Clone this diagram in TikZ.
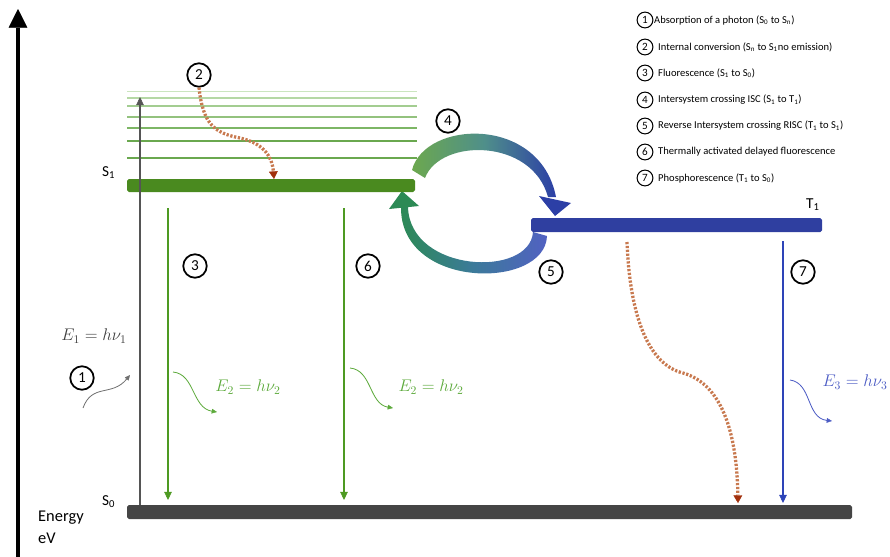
\documentclass[tikz,border=0pt]{standalone}
\usepackage{fontspec}
\setmainfont{Carlito}
\usetikzlibrary{arrows.meta}
\definecolor{sonegreen}{HTML}{4A8A1F}
\definecolor{arrgreen}{HTML}{4E9A22}
\definecolor{txtgreen}{HTML}{5DAA3C}
\definecolor{tblue}{HTML}{2F3FA0}
\definecolor{arrblue}{HTML}{2E44B8}
\definecolor{txtblue}{HTML}{4C5CC4}
\definecolor{szero}{HTML}{454545}
\definecolor{dotbrown}{HTML}{C8794F}
\definecolor{tipred}{HTML}{A2300C}
\definecolor{iscgreen}{HTML}{6CA84E}
\definecolor{iscmid}{HTML}{4F8F8A}
\definecolor{iscblue}{HTML}{2C3FA6}
\definecolor{riscgreen}{HTML}{2C8A55}
\definecolor{riscmid}{HTML}{3C7A9A}
\definecolor{riscblue}{HTML}{5161C2}
\definecolor{vibA}{HTML}{6AA84F}
\definecolor{vibB}{HTML}{7DB665}
\definecolor{vibC}{HTML}{93C27E}
\definecolor{vibD}{HTML}{A3CD91}
\definecolor{vibE}{HTML}{B5D8A5}
\definecolor{vibF}{HTML}{CBE5BF}
\definecolor{grayarr}{HTML}{555555}
\definecolor{wavegray}{HTML}{707070}
\begin{document}
\begin{tikzpicture}[x=0.03cm,y=-0.03cm,
 numcirc/.style={circle,draw=black,line width=1.5pt,minimum size=20pt,inner sep=0pt,font=\fontsize{13}{13}\selectfont},
 legcirc/.style={circle,draw=black,line width=0.9pt,minimum size=13.5pt,inner sep=0pt,font=\fontsize{9.5}{9.5}\selectfont},
 legtext/.style={anchor=west,inner sep=0pt,font=\fontsize{9}{11}\selectfont},
 lvl/.style={anchor=base west,inner sep=0pt,font=\fontsize{13}{15}\selectfont},
 eqn/.style={inner sep=0pt,font=\Large},
 emit/.style={line width=1.7pt,-{Triangle[width=6.5pt,length=7pt,line width=0.4pt]}},
 wave/.style={line width=0.7pt,-{Triangle[width=4pt,length=4.5pt,line width=0.3pt]}},
 nonrad/.style={line width=2.8pt,dotbrown,dash pattern=on 1.9pt off 1.4pt,-{Triangle[width=7.5pt,length=6.5pt,line width=0.3pt,fill=tipred,color=tipred]}},
]
\useasboundingbox (0,0) rectangle (890,557);

% energy axis
\coordinate (ax0) at (18,557);
\coordinate (ax1) at (18,9);
\draw[black,line width=4.2pt,-{Triangle[width=16pt,length=16pt,line width=0.4pt]}] (ax0) -- (ax1);
\node[anchor=base west,inner sep=0pt,font=\fontsize{14}{16}\selectfont] (en) at (38,521) {Energy};
\node[anchor=base west,inner sep=0pt,font=\fontsize{14}{16}\selectfont] (ev) at (38,543) {eV};

% ISC band (S1 -> T1)
\shade[left color=iscgreen,right color=iscblue,middle color=iscmid]
  (412,170) .. controls (425,120) and (540,115) .. (556,197) -- (548,197)
  .. controls (532,138) and (440,138) .. (425,178) -- cycle;
\fill[iscblue] (539,196) -- (571,203) -- (555,216) -- cycle;

% RISC band (T1 -> S1)
\shade[left color=riscgreen,right color=riscblue,middle color=riscmid]
  (547,236) .. controls (545,290) and (400,290) .. (401,207) -- (408,207)
  .. controls (410,273) and (530,278) .. (533,232) -- cycle;
\fill[riscgreen] (389,209) -- (402,191) -- (419,206) -- cycle;

% vibrational levels
\draw[vibF,line width=1.3pt] (127,91.7) -- (417,91.7);
\draw[vibE,line width=1.4pt] (127,97.7) -- (417,97.7);
\draw[vibD,line width=1.5pt] (127,106) -- (417,106);
\draw[vibC,line width=1.6pt] (127,116.7) -- (417,116.7);
\draw[vibB,line width=1.7pt] (127,128.3) -- (417,128.3);
\draw[vibA,line width=1.9pt] (127,140.7) -- (417,140.7);
\draw[vibA,line width=1.9pt] (127,158.3) -- (417,158.3);

% levels
\fill[szero,rounded corners=1.5pt] (127,505) rectangle (852,519);
\fill[sonegreen,rounded corners=1.5pt] (127,179) rectangle (415,192);
\fill[tblue,rounded corners=1.5pt] (531,218) rectangle (822,232);
\node[lvl] (s1lab) at (102,176) {S\textsubscript{1}};
\node[lvl] (s0lab) at (102,505) {S\textsubscript{0}};
\node[lvl] (t1lab) at (806,208) {T\textsubscript{1}};

% coordinates on the levels
\coordinate (absA) at (140,505);
\coordinate (absB) at (140,97);
\coordinate (f3a) at (168,208);
\coordinate (f3b) at (168,500);
\coordinate (f6a) at (344,208);
\coordinate (f6b) at (344,500);
\coordinate (p7a) at (783,241);
\coordinate (p7b) at (783,503);

% absorption arrow
\draw[grayarr,line width=1.6pt,-{Triangle[width=6.5pt,length=7pt,line width=0.4pt]}] (absA) -- (absB);
% fluorescence, TADF, phosphorescence
\draw[emit,arrgreen] (f3a) -- (f3b);
\draw[emit,arrgreen] (f6a) -- (f6b);
\draw[emit,arrblue] (p7a) -- (p7b);

% circled numbers
\node[numcirc] (c1) at (82,378) {1};
\node[numcirc] (c2) at (199,75) {2};
\node[numcirc] (c3) at (195,266) {3};
\node[numcirc] (c4) at (448,121) {4};
\node[numcirc] (c5) at (551,272) {5};
\node[numcirc] (c6) at (368,266) {6};
\node[numcirc] (c7) at (803,272) {7};

% internal conversion
\coordinate (ic1) at (274,179);
\draw[nonrad] (c2.south) .. controls (203,125) and (215,133) .. (240,138)
  .. controls (262,143) and (272,155) .. (ic1);
% non-radiative T1 -> S0
\coordinate (nr0) at (627,242);
\coordinate (nr1) at (738,503);
\draw[nonrad] (nr0) .. controls (630,320) and (650,365) .. (683,373)
  .. controls (725,385) and (737,440) .. (nr1);

% photons
\coordinate (w1a) at (83,408);  \coordinate (w1b) at (130,375);
\draw[wave,wavegray] (w1a) .. controls (92,383) and (112,397) .. (w1b);
\coordinate (w2a) at (173,372); \coordinate (w2b) at (217,412);
\draw[wave,txtgreen] (w2a) .. controls (195,374) and (192,408) .. (w2b);
\coordinate (w3a) at (350,368); \coordinate (w3b) at (393,408);
\draw[wave,txtgreen] (w3a) .. controls (372,370) and (369,404) .. (w3b);
\coordinate (w4a) at (790,380); \coordinate (w4b) at (832,421);
\draw[wave,txtblue] (w4a) .. controls (812,383) and (806,418) .. (w4b);

% energies
\node[eqn,text=black!75] (e1) at (94,336) {$E_1 = h\nu_1$};
\node[eqn,text=txtgreen] (e2) at (248,387) {$E_2 = h\nu_2$};
\node[eqn,text=txtgreen] (e2b) at (431,387) {$E_2 = h\nu_2$};
\node[eqn,text=txtblue] (e3) at (855,382) {$E_3 = h\nu_3$};

% legend
\node[legcirc] (l1) at (645,20) {1};
\node[legtext] (t1) at (654,20) {Absorption of a photon (S\textsubscript{0} to S\textsubscript{n})};
\node[legcirc] (l2) at (645,47) {2};
\node[legtext] (t2) at (658,47) {Internal conversion (S\textsubscript{n} to S\textsubscript{1}no emission)};
\node[legcirc] (l3) at (645,73) {3};
\node[legtext] (t3) at (658,73) {Fluorescence (S\textsubscript{1} to S\textsubscript{0})};
\node[legcirc] (l4) at (645,100) {4};
\node[legtext] (t4) at (658,100) {Intersystem crossing ISC (S\textsubscript{1} to T\textsubscript{1})};
\node[legcirc] (l5) at (645,126) {5};
\node[legtext] (t5) at (658,126) {Reverse Intersystem crossing RISC (T\textsubscript{1} to S\textsubscript{1})};
\node[legcirc] (l6) at (645,152) {6};
\node[legtext] (t6) at (658,152) {Thermally activated delayed fluorescence};
\node[legcirc] (l7) at (645,178) {7};
\node[legtext] (t7) at (658,178) {Phosphorescence (T\textsubscript{1} to S\textsubscript{0})};
\end{tikzpicture}
\end{document}
